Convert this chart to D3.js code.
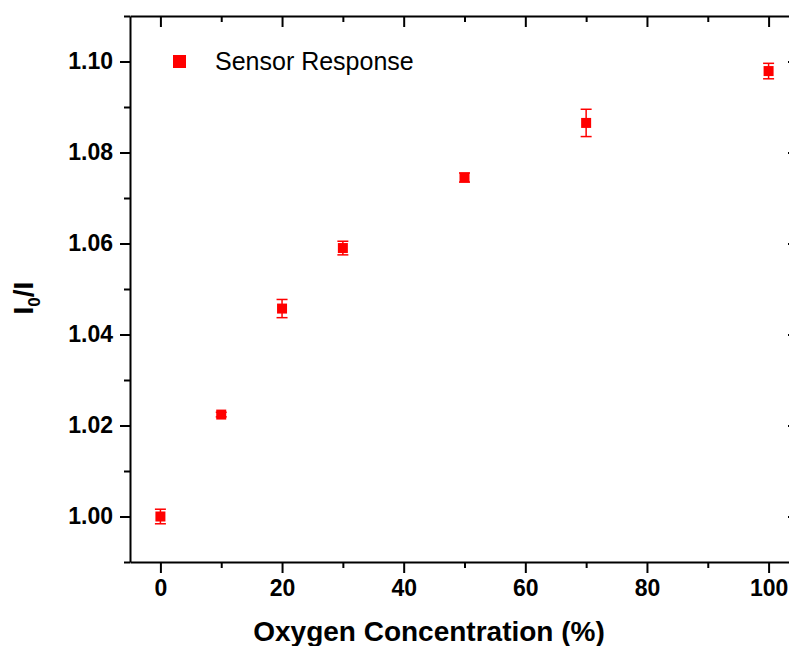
<!DOCTYPE html>
<html>
<head>
<meta charset="utf-8">
<script src="https://cdn.jsdelivr.net/npm/d3@7"></script>
<style>
  body { margin: 0; background: #fff; }
  svg { display: block; font-family: "Liberation Sans", Arial, sans-serif; }
</style>
</head>
<body>
<svg id="chart" width="789" height="646"></svg>
<script>
const oxygen = [0, 10, 20, 30, 50, 70, 100];
const response = [1.0, 1.0224, 1.0457, 1.059, 1.0745, 1.0865, 1.0979];
const errors = [0.0016, 0.0005, 0.002, 0.0015, 0.001, 0.003, 0.0017];
const xTicks = [0, 20, 40, 60, 80, 100];
const yTicks = [1.0, 1.02, 1.04, 1.06, 1.08, 1.1];
const seriesName = "Sensor Response";

const svg = d3.select("#chart");
const m = { left: 130, right: 799, top: 16, bottom: 562 };
const red = "#ff0000";

const x = d3.scaleLinear().domain([-5, 105]).range([m.left, m.right]);
const y = d3.scaleLinear().domain([0.99, 1.11]).range([m.bottom, m.top]);

const minorX = [10, 30, 50, 70, 90];
const minorY = [0.99, 1.01, 1.03, 1.05, 1.07, 1.09, 1.11];

function addAxis(axisFn, scale, pos, major, minor, majorLen, minorLen, labels) {
  const g = svg.append("g").attr("transform", pos);
  const a = axisFn(scale).tickValues(major).tickSize(majorLen).tickSizeOuter(0);
  if (labels) a.tickPadding(7).tickFormat(labels);
  else a.tickFormat("");
  g.call(a);
  const mg = g.append("g").call(axisFn(scale).tickValues(minor).tickSize(minorLen).tickSizeOuter(0).tickFormat(""));
  mg.select(".domain").remove();
  return g;
}

addAxis(d3.axisBottom, x, `translate(0,${m.bottom})`, xTicks, minorX, 11, 6, d3.format("d"));
addAxis(d3.axisBottom, x, `translate(0,${m.top})`, xTicks, minorX, 11, 6, null);
addAxis(d3.axisLeft, y, `translate(${m.left},0)`, yTicks, minorY, 10, 6, d3.format(".2f"));
addAxis(d3.axisLeft, y, `translate(${m.right},0)`, yTicks, minorY, 11, 6, null);

svg.selectAll(".domain").attr("stroke", "#000").attr("stroke-width", 2);
svg.selectAll(".tick line").attr("stroke", "#000").attr("stroke-width", 2);
svg.selectAll(".tick text")
  .attr("fill", "#000")
  .style("font-size", "23px")
  .style("font-weight", "bold");

// error bars
const pts = oxygen.map((o, i) => ({ o, r: response[i], e: errors[i] }));
const eb = svg.append("g").attr("stroke", red).attr("stroke-width", 1.5);
pts.forEach((d) => {
  const cx = x(d.o);
  eb.append("line").attr("x1", cx).attr("x2", cx).attr("y1", y(d.r - d.e)).attr("y2", y(d.r + d.e));
  eb.append("line").attr("x1", cx - 5.5).attr("x2", cx + 5.5).attr("y1", y(d.r - d.e)).attr("y2", y(d.r - d.e));
  eb.append("line").attr("x1", cx - 5.5).attr("x2", cx + 5.5).attr("y1", y(d.r + d.e)).attr("y2", y(d.r + d.e));
});

// markers
const s = 10;
svg.append("g")
  .selectAll("rect")
  .data(pts)
  .join("rect")
  .attr("x", (d) => x(d.o) - s / 2)
  .attr("y", (d) => y(d.r) - s / 2)
  .attr("width", s)
  .attr("height", s)
  .attr("fill", red);

// legend
svg.append("rect").attr("x", 173).attr("y", 55).attr("width", 13).attr("height", 13).attr("fill", red);
svg.append("text").attr("x", 215).attr("y", 70)
  .style("font-size", "25px").attr("fill", "#000").text(seriesName);

// axis titles
svg.append("text")
  .attr("x", 429).attr("y", 641)
  .attr("text-anchor", "middle")
  .style("font-size", "28px").style("font-weight", "bold")
  .text("Oxygen Concentration (%)");

const yt = svg.append("text")
  .attr("transform", "translate(33,298) rotate(-90)")
  .attr("text-anchor", "middle")
  .style("font-size", "28px").style("font-weight", "bold");
yt.append("tspan").text("I");
yt.append("tspan").attr("dy", 7).style("font-size", "17px").text("0");
yt.append("tspan").attr("dy", -7).text("/I");
</script>
</body>
</html>
